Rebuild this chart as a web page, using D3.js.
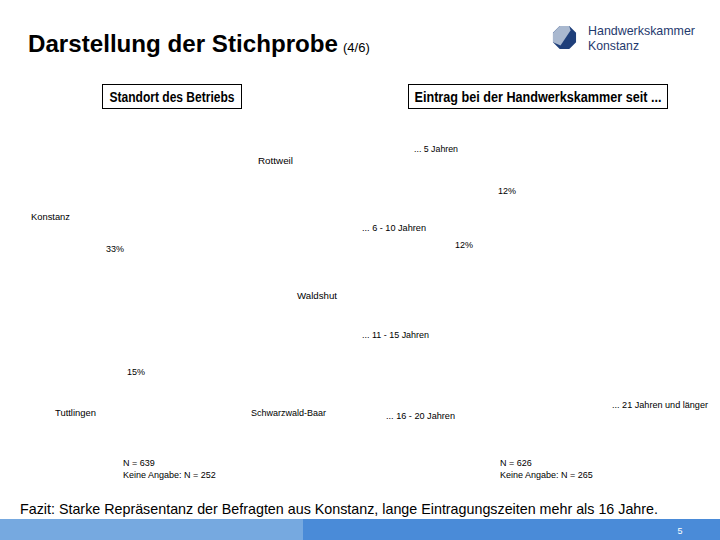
<!DOCTYPE html>
<html><head><meta charset="utf-8">
<script src="https://cdn.jsdelivr.net/npm/d3@7"></script>
<style>html,body{margin:0;padding:0;background:#fff;} svg{display:block;font-family:"Liberation Sans",Arial,sans-serif;}</style>
</head><body>
<script>
// ---- data ----
const standortCategories = ["Konstanz", "Rottweil", "Waldshut", "Tuttlingen", "Schwarzwald-Baar"];
const standortValues = [33, null, null, 15, null];
const standortN = ["N = 639", "Keine Angabe: N = 252"];
const eintragCategories = ["... 5 Jahren", "... 6 - 10 Jahren", "... 11 - 15 Jahren", "... 16 - 20 Jahren", "... 21 Jahren und länger"];
const eintragValues = [12, 12, null, null, null];
const eintragN = ["N = 626", "Keine Angabe: N = 265"];

// ---- layout (label anchors only) ----
const standortCatPos = [[31,220,39],[258,164,35],[297,299,40],[55,416,41],[251,416,75]];
const standortValPos = [[106,252],null,null,[127,375],null];
const eintragCatPos = [[414,152,44],[362,231,64],[362,338,67],[386,419,69],[612,408,96]];
const eintragValPos = [[498,194],[455,248],null,null,null];

const W = 720, H = 540;
const svg = d3.select("body").append("svg").attr("width", W).attr("height", H);

// title
const t = svg.append("text").attr("x", 28).attr("y", 52).attr("fill", "#000");
t.append("tspan").attr("font-size", 24).attr("font-weight", "bold")
  .attr("textLength", 310).attr("lengthAdjust", "spacingAndGlyphs").text("Darstellung der Stichprobe");
t.append("tspan").attr("font-size", 13).attr("dx", 5).text("(4/6)");

// logo
const logo = svg.append("g").attr("transform", "translate(564.5,37.5)");
const oct = d3.range(8).map(i => { const a = Math.PI/8 + i*Math.PI/4; return [12.5*Math.cos(a), 12.5*Math.sin(a)]; });
logo.append("path").attr("d", d3.line()(oct) + "Z").attr("fill", "#1f3f7a");
logo.append("path").attr("d", "M-11.5,-4.8 L-4.8,-11.5 L4.8,-11.5 L6,-7 L-4,8 L-11.5,4.8 Z").attr("fill", "#a9b8cf");
svg.append("text").attr("x", 588).attr("y", 35).attr("font-size", 13).attr("fill", "#1f3a6e")
  .attr("textLength", 107).attr("lengthAdjust", "spacingAndGlyphs").text("Handwerkskammer");
svg.append("text").attr("x", 588).attr("y", 50).attr("font-size", 13).attr("fill", "#1f3a6e")
  .attr("textLength", 51).attr("lengthAdjust", "spacingAndGlyphs").text("Konstanz");

// boxes
function box(x, y, w, h, txt, tw) {
  svg.append("rect").attr("x", x).attr("y", y).attr("width", w).attr("height", h)
    .attr("fill", "#fff").attr("stroke", "#000").attr("stroke-width", 1);
  svg.append("text").attr("x", x + w/2).attr("y", y + h/2 + 5).attr("text-anchor", "middle")
    .attr("font-size", 14).attr("font-weight", "bold")
    .attr("textLength", tw).attr("lengthAdjust", "spacingAndGlyphs").text(txt);
}
box(102.5, 84.5, 139, 24, "Standort des Betriebs", 125);
box(408.5, 84.5, 259, 24, "Eintrag bei der Handwerkskammer seit ...", 247);

function labels(cats, vals, catPos, valPos) {
  const g = svg.append("g").attr("font-size", 9).attr("fill", "#000");
  g.selectAll("text.cat").data(cats).join("text").attr("class", "cat")
    .attr("x", (d, i) => catPos[i][0]).attr("y", (d, i) => catPos[i][1])
    .attr("textLength", (d, i) => catPos[i][2]).attr("lengthAdjust", "spacingAndGlyphs")
    .text(d => d);
  const vd = vals.map((v, i) => ({v, p: valPos[i]})).filter(d => d.v != null && d.p);
  g.selectAll("text.val").data(vd).join("text").attr("class", "val")
    .attr("x", d => d.p[0]).attr("y", d => d.p[1])
    .attr("textLength", 18).attr("lengthAdjust", "spacingAndGlyphs")
    .text(d => d3.format("d")(d.v) + "%");
}
labels(standortCategories, standortValues, standortCatPos, standortValPos);
labels(eintragCategories, eintragValues, eintragCatPos, eintragValPos);

function nText(lines, x) {
  svg.append("g").attr("font-size", 9).selectAll("text").data(lines).join("text")
    .attr("x", x).attr("y", (d, i) => 466 + i*12).text(d => d);
}
nText(standortN, 123);
nText(eintragN, 500);

// fazit
svg.append("text").attr("x", 20).attr("y", 514).attr("font-size", 15)
  .attr("textLength", 638).attr("lengthAdjust", "spacingAndGlyphs")
  .text("Fazit: Starke Repräsentanz der Befragten aus Konstanz, lange Eintragungszeiten mehr als 16 Jahre.");

// footer bar
svg.append("rect").attr("x", 0).attr("y", 519).attr("width", 303).attr("height", 21).attr("fill", "#76a9e0");
svg.append("rect").attr("x", 303).attr("y", 519).attr("width", 417).attr("height", 21).attr("fill", "#4a8bd8");
svg.append("text").attr("x", 680).attr("y", 534).attr("text-anchor", "middle").attr("font-size", 9)
  .attr("fill", "#fff").text("5");
</script>
</body></html>
